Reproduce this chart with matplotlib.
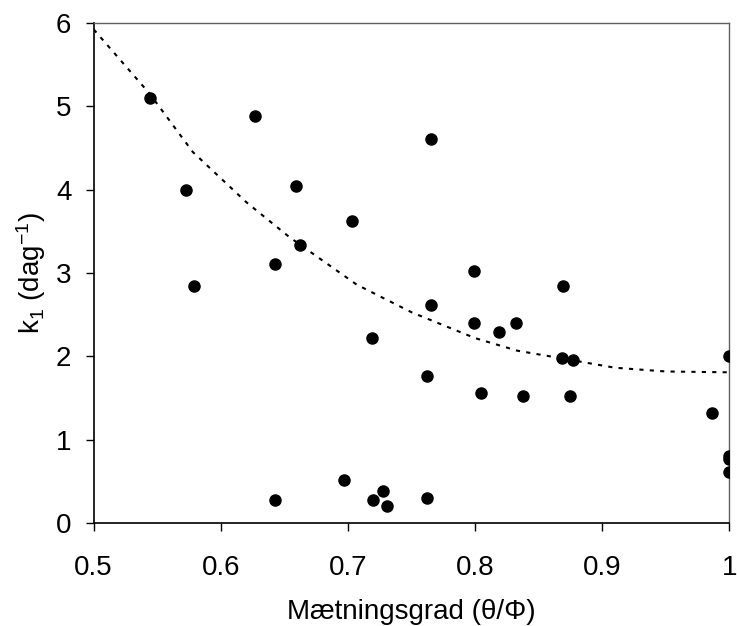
import matplotlib
matplotlib.use("Agg")
import matplotlib.pyplot as plt

plt.rcParams['font.family'] = ['Liberation Sans', 'DejaVu Sans']
plt.rcParams['mathtext.fontset'] = 'custom'
plt.rcParams['mathtext.rm'] = 'Liberation Sans'
plt.rcParams['mathtext.it'] = 'Liberation Sans'

# data points (saturation, k1)
sat = [0.544, 0.627, 0.573, 0.659, 0.703, 0.662, 0.643, 0.579,
       0.719, 0.643, 0.697, 0.720, 0.7275, 0.731,
       0.765, 0.799, 0.819, 0.832, 0.8685, 0.877, 1.0,
       0.762, 0.805, 0.838, 0.8746, 0.9865, 1.0, 1.0, 1.0, 0.762,
       0.765, 0.799, 0.869]
k1 = [5.10, 4.88, 3.99, 4.04, 3.62, 3.33, 3.11, 2.84,
      2.22, 0.28, 0.52, 0.28, 0.39, 0.21,
      2.62, 2.40, 2.29, 2.40, 1.98, 1.96, 2.01,
      1.76, 1.56, 1.53, 1.53, 1.32, 0.81, 0.77, 0.61, 0.30,
      4.61, 3.02, 2.84]

# trend line
trend_x = [0.5, 0.544, 0.578, 0.62, 0.654, 0.707, 0.75, 0.80, 0.833, 0.867, 0.91, 0.95, 1.0]
trend_y = [5.92, 5.15, 4.45, 3.85, 3.43, 2.86, 2.53, 2.22, 2.07, 1.98, 1.865, 1.82, 1.81]

xticks = [0.5, 0.6, 0.7, 0.8, 0.9, 1.0]
xticklabels = ['0.5', '0.6', '0.7', '0.8', '0.9', '1']
yticks = [0, 1, 2, 3, 4, 5, 6]

fig = plt.figure(figsize=(7.37, 6.26), dpi=100)
ax = fig.add_axes([0.1271, 0.164, 0.8625, 0.7997])

ax.plot(trend_x, trend_y, color='black', linestyle=(0, (2, 3)), linewidth=1.5, zorder=2)
ax.plot(sat, k1, linestyle='none', marker='o', markersize=8, color='black', zorder=3)

ax.set_xlim(0.5, 1.0)
ax.set_ylim(0, 6)
ax.set_xticks(xticks)
ax.set_xticklabels(xticklabels)
ax.set_yticks(yticks)
ax.tick_params(axis='x', direction='out', length=6, width=1, pad=17, labelsize=20)
ax.tick_params(axis='y', direction='out', length=6, width=1, pad=10, labelsize=20)

for s in ['left', 'bottom']:
    ax.spines[s].set_color('black')
    ax.spines[s].set_linewidth(1.2)
for s in ['top', 'right']:
    ax.spines[s].set_color('#606060')
    ax.spines[s].set_linewidth(1.0)

ax.set_xlabel('Mætningsgrad (θ/Φ)', fontsize=20, labelpad=13)
ax.set_ylabel(r'k$_{1}$ (dag$^{-1}$)', fontsize=20, labelpad=6)

fig.savefig('out.png', dpi=100)
